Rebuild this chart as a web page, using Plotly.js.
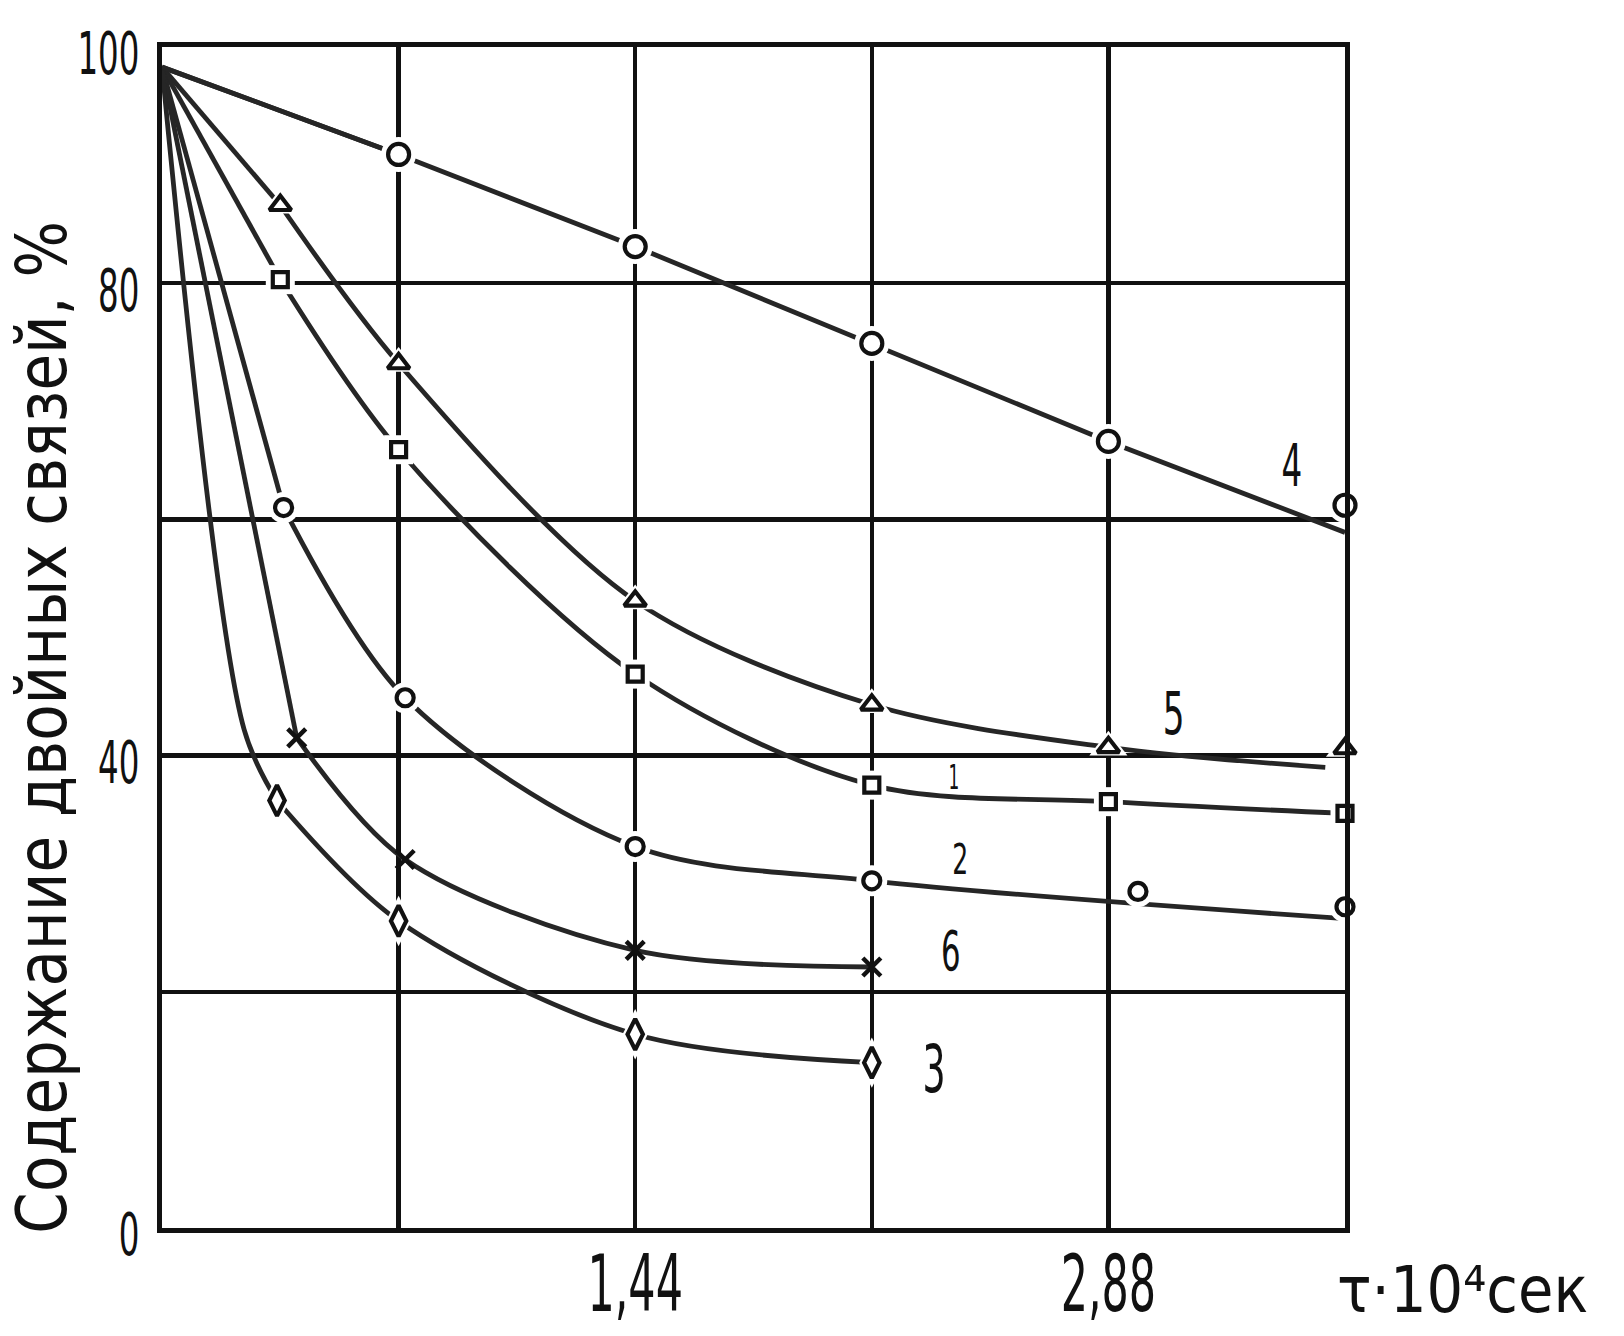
<!DOCTYPE html>
<html>
<head>
<meta charset="utf-8">
<script src="https://cdn.plot.ly/plotly-3.0.1.min.js"></script>
<style>
  html, body { margin: 0; padding: 0; background: #fff; }
  #chart { width: 1624px; height: 1336px; }
</style>
</head>
<body>
<div id="chart"></div>
<script>
// ---------- data ----------
const START_X = 0;
const START_Y = 98.3;

// curve 4 (circles, straight line)
const s4MarkX = [0.72, 1.44, 2.16, 2.88, 3.6];
const s4MarkY = [90.9, 83.1, 74.9, 66.6, 61.2];
const s4LineX = [0, 0.72, 1.44, 2.16, 2.88, 3.6];
const s4LineY = [98.3, 90.9, 83.1, 74.9, 66.6, 58.9];

// curve 5 (triangles)
const s5MarkX = [0.36, 0.72, 1.44, 2.16, 2.88, 3.6];
const s5MarkY = [86.6, 73.2, 53.1, 44.3, 40.7, 40.6];
const s5LineX = [0.36, 0.72, 1.44, 2.16, 2.88, 3.54];
const s5LineY = [86.6, 73.2, 53.1, 44.3, 40.7, 39.0];

// curve 1 (squares)
const s1MarkX = [0.36, 0.72, 1.44, 2.16, 2.88, 3.6];
const s1MarkY = [80.3, 65.9, 46.9, 37.5, 36.1, 35.1];
const s1LineX = [0.36, 0.72, 1.44, 2.16, 2.88, 3.6];
const s1LineY = [80.3, 65.9, 46.9, 37.5, 36.1, 35.1];

// curve 2 (small circles)
const s2MarkX = [0.37, 0.74, 1.44, 2.16, 2.97, 3.6];
const s2MarkY = [61.0, 44.9, 32.3, 29.4, 28.5, 27.2];
const s2LineX = [0.37, 0.74, 1.44, 2.16, 3.6];
const s2LineY = [61.0, 44.9, 32.3, 29.4, 26.2];

// curve 6 (crosses)
const s6MarkX = [0.41, 0.74, 1.44, 2.16];
const s6MarkY = [41.5, 31.2, 23.5, 22.1];
const s6LineX = [0.41, 0.74, 1.44, 2.16];
const s6LineY = [41.5, 31.2, 23.5, 22.1];

// curve 3 (diamonds)
const s3MarkX = [0.35, 0.72, 1.44, 2.16];
const s3MarkY = [36.2, 26.0, 16.4, 14.0];
const s3LeadX = [0, 0.25, 0.35];
const s3LeadY = [98.3, 42.2, 36.2];
const s3LineX = [0.35, 0.72, 1.44, 2.16];
const s3LineY = [36.2, 26.0, 16.4, 14.0];

// curve labels
const labelText = ['4', '5', '1', '2', '6', '3'];
const labelX = [3.44, 3.08, 2.41, 2.43, 2.40, 2.35];
const labelY = [64.6, 43.6, 38.2, 31.2, 23.5, 13.4];

// axes ticks (labelled ticks) and grid steps
const xTickVals = [1.44, 2.88];
const xTickText = ['1,44', '2,88'];
const xGridStep = 0.72;
const yTickVals = [0, 40, 80, 100];
const yTickText = ['0', '40', '80', '100'];
const yGridStep = 20;

const yTitle = 'Содержание двойных связей, %';
const xTitle = 'τ·10⁴сек';

// ---------- styling ----------
const FONT = '"DejaVu Sans", "Liberation Sans", sans-serif';
const INK = '#111';
const PEN = '#262626';
const LW = 4.8;
const GW = 4.4;

const labelSize = [59, 59, 34, 42, 56, 66];
const labelSqueeze = [0.55, 0.58, 0.5, 0.6, 0.55, 0.55];

const traces = [];

function lineTrace(x, y, shape) {
  return { x: x, y: y, type: 'scatter', mode: 'lines', hoverinfo: 'skip',
           showlegend: false, cliponaxis: false,
           line: { color: PEN, width: LW, shape: shape, smoothing: 0.9 } };
}
function haloTrace(x, y, symbol, size) {
  return { x: x, y: y, type: 'scatter', mode: 'markers', hoverinfo: 'skip',
           showlegend: false, cliponaxis: false,
           marker: { symbol: symbol, size: size + 14, color: '#fff',
                     line: { width: 0 } } };
}
function markTrace(x, y, symbol, size) {
  const isX = symbol.indexOf('x') === 0;
  return { x: x, y: y, type: 'scatter', mode: 'markers', showlegend: false,
           cliponaxis: false,
           marker: { symbol: symbol, size: size, color: isX ? INK : '#fff',
                     line: { color: INK, width: isX ? 4.5 : 4.2 } } };
}

// leads from the common start point (straight strokes)
traces.push(lineTrace([START_X, s4LineX[1]], [START_Y, s4LineY[1]], 'linear'));
traces.push(lineTrace([START_X, s5LineX[0]], [START_Y, s5LineY[0]], 'linear'));
traces.push(lineTrace([START_X, s1LineX[0]], [START_Y, s1LineY[0]], 'linear'));
traces.push(lineTrace([START_X, s2LineX[0]], [START_Y, s2LineY[0]], 'linear'));
traces.push(lineTrace([START_X, s6LineX[0]], [START_Y, s6LineY[0]], 'linear'));
traces.push(lineTrace(s3LeadX, s3LeadY, 'spline'));

// main curves
traces.push(lineTrace(s4LineX, s4LineY, 'linear'));
traces.push(lineTrace(s5LineX, s5LineY, 'spline'));
traces.push(lineTrace(s1LineX, s1LineY, 'spline'));
traces.push(lineTrace(s2LineX, s2LineY, 'spline'));
traces.push(lineTrace(s6LineX, s6LineY, 'spline'));
traces.push(lineTrace(s3LineX, s3LineY, 'spline'));

const markerSets = [
  [s4MarkX, s4MarkY, 'circle', 21],
  [s5MarkX, s5MarkY, 'triangle-up', 19],
  [s1MarkX, s1MarkY, 'square', 15],
  [s2MarkX, s2MarkY, 'circle', 17],
  [s6MarkX, s6MarkY, 'x-thin', 18],
  [s3MarkX, s3MarkY, 'diamond-tall', 22]
];
markerSets.forEach(m => traces.push(haloTrace(m[0], m[1], m[2], m[3])));
markerSets.forEach(m => traces.push(markTrace(m[0], m[1], m[2], m[3])));

const annotations = labelText.map((t, i) => ({
  text: t, x: labelX[i], y: labelY[i], xref: 'x', yref: 'y',
  showarrow: false, xanchor: 'center', yanchor: 'middle',
  font: { family: FONT, size: labelSize[i], color: INK }
}));
const annSqueeze = labelSqueeze.slice();

annotations.push({
  text: yTitle, textangle: -90, xref: 'paper', yref: 'paper',
  x: (42 - 162) / 1183, y: (1228 - 728) / 1181,
  xanchor: 'center', yanchor: 'middle', showarrow: false,
  font: { family: FONT, size: 70, color: INK }
});
annSqueeze.push(0.85);
annotations.push({
  text: xTitle, xref: 'paper', yref: 'paper',
  x: (1462 - 162) / 1183, y: (1228 - 1290) / 1181,
  xanchor: 'center', yanchor: 'middle', showarrow: false,
  font: { family: FONT, size: 64, color: INK }
});
annSqueeze.push(0.9);

const axisCommon = {
  showgrid: true, gridcolor: INK, gridwidth: GW,
  showline: true, linecolor: INK, linewidth: 5, mirror: true,
  zeroline: false, ticks: '', fixedrange: true,
  tickmode: 'array'
};

const layout = {
  width: 1624, height: 1336,
  margin: { l: 162, r: 279, t: 47, b: 108 },
  paper_bgcolor: '#fff', plot_bgcolor: '#fff',
  showlegend: false,
  xaxis: Object.assign({}, axisCommon, {
    range: [0, 3.6], tickvals: xTickVals, ticktext: xTickText,
    ticklabelstandoff: -16,
    minor: { tick0: 0, dtick: xGridStep, showgrid: true, gridcolor: INK, gridwidth: GW, ticks: '' },
    tickfont: { family: FONT, size: 78, color: INK }
  }),
  yaxis: Object.assign({}, axisCommon, {
    range: [0, 100], tickvals: yTickVals, ticktext: yTickText,
    ticklabelstandoff: 6, ticklabelshift: 7,
    minor: { tick0: 0, dtick: yGridStep, showgrid: true, gridcolor: INK, gridwidth: GW, ticks: '' },
    tickfont: { family: FONT, size: 58, color: INK }
  }),
  annotations: annotations
};

// narrow the lettering horizontally, like the hand-drawn original
function squeeze(el, factor) {
  if (!el) return;
  const w = el.getComputedTextLength();
  if (w > 0) {
    el.setAttribute('textLength', (w * factor).toFixed(1));
    el.setAttribute('lengthAdjust', 'spacingAndGlyphs');
  }
}

Plotly.newPlot('chart', traces, layout, { staticPlot: true, displayModeBar: false }).then(gd => {
  gd.querySelectorAll('.xtick text').forEach(t => squeeze(t, 0.55));
  gd.querySelectorAll('.ytick text').forEach(t => squeeze(t, 0.56));
  annSqueeze.forEach((f, i) => {
    squeeze(gd.querySelector('.annotation[data-index="' + i + '"] text.annotation-text'), f);
  });
  // drop Plotly's empty placeholder title nodes
  gd.querySelectorAll('text').forEach(t => { if (!t.textContent.trim()) t.remove(); });
});
</script>
</body>
</html>
